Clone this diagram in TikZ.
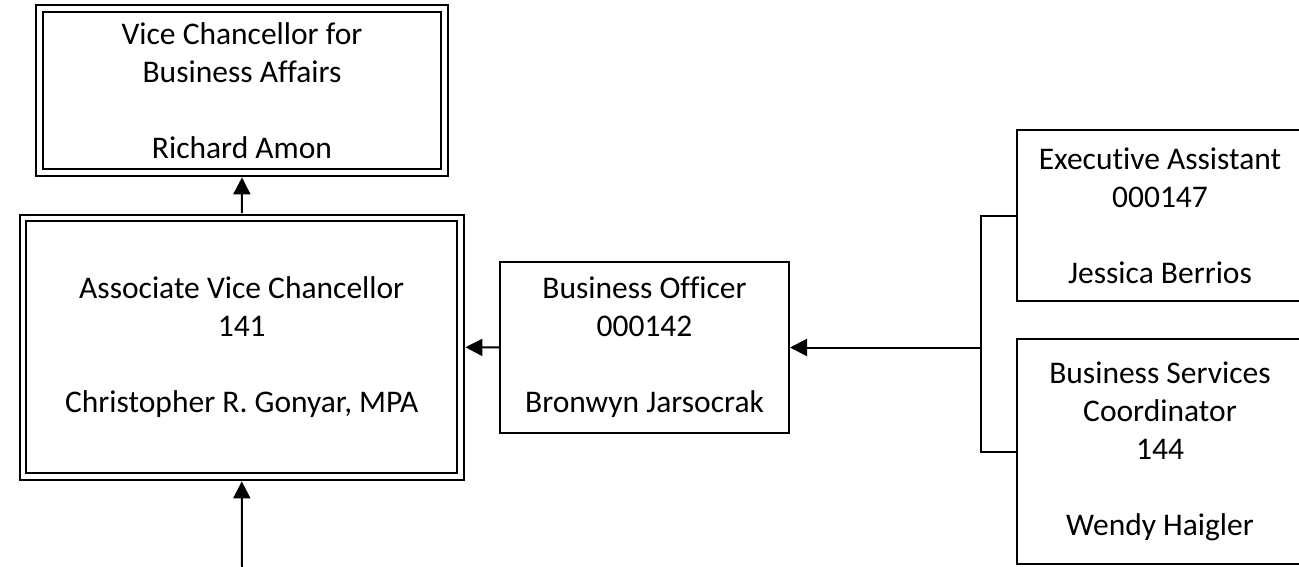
\documentclass[tikz,border=0pt]{standalone}
\usepackage{fontspec}
\setmainfont{Carlito}[Ligatures={NoCommon,NoRare,NoContextual}]
\usetikzlibrary{arrows.meta}
\begin{document}
\begin{tikzpicture}[x=1pt,y=-1pt,
  box/.style={draw=black,line width=2pt,rectangle,inner sep=0pt,align=center,
    font=\fontsize{31.5}{38}\selectfont},
  dbox/.style={box,line width=1.8pt,double,double distance=4.5pt},
  conn/.style={line width=2pt},
  arr/.style={conn,-{Triangle[length=17pt,width=17pt]}}]
\useasboundingbox (0,0) rectangle (1299,567);
\node[dbox,minimum width=405pt,minimum height=164pt] (vc) at (242,90.5)
  {Vice Chancellor for\\Business Affairs\\[38pt]Richard Amon};
\node[dbox,minimum width=437.5pt,minimum height=258.5pt] (avc) at (241.75,347.25)
  {Associate Vice Chancellor\\141\\[38pt]Christopher R. Gonyar, MPA};
\node[box,minimum width=289pt,minimum height=171pt] (bo) at (644.5,347.5)
  {Business Officer\\000142\\[38pt]Bronwyn Jarsocrak};
\node[box,minimum width=286pt,minimum height=171pt] (ea) at (1160,215.5)
  {Executive Assistant\\000147\\[38pt]Jessica Berrios};
\node[box,minimum width=286pt,minimum height=225pt] (bs) at (1160,451.5)
  {Business Services\\Coordinator\\144\\[38pt]Wendy Haigler};
\coordinate (j) at (981,347.5);
\coordinate (b) at (242,567);
\draw[arr,shorten <=4pt,shorten >=4pt] (avc.north) -- (vc.south);
\draw[arr,shorten >=4pt] (b) -- (avc.south);
\draw[arr,shorten >=4pt] (bo.west) -- (avc.east);
\draw[conn] (ea.west) -| (j);
\draw[conn] (bs.west) -| (j);
\draw[arr] (j) -- (bo.east);
\end{tikzpicture}
\end{document}
